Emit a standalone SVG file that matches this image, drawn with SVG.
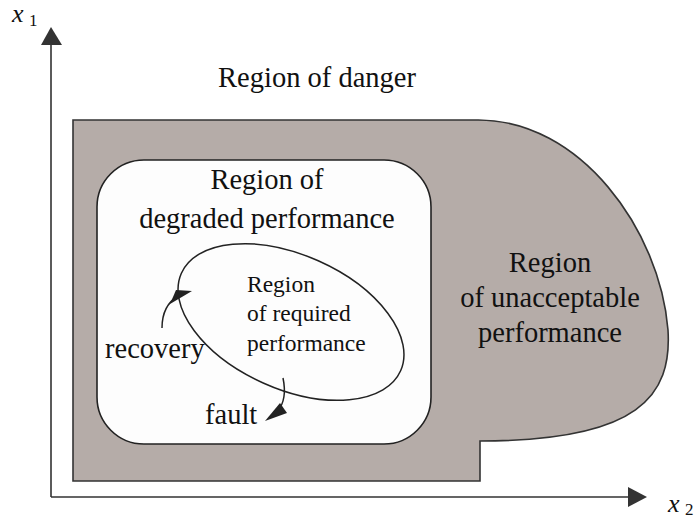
<svg xmlns="http://www.w3.org/2000/svg" width="699" height="521" viewBox="0 0 699 521">
  <style>
    .lbl { font-family: "Liberation Serif", Tinos, "Noto Serif", FreeSerif, "Nimbus Roman", "Nimbus Roman No9 L", "DejaVu Serif", "Times New Roman", Times, serif; fill: #111; }
    .big { font-size: 28.5px; }
    .small { font-size: 23.5px; }
    .math { font-style: italic; }
    .edge { fill: none; stroke: #222; stroke-width: 1.5; }
    .axis { fill: none; stroke: #333; stroke-width: 1.6; }
    .head { fill: #222; }
  </style>
  <rect width="699" height="521" fill="#ffffff"/>

  <!-- region of unacceptable performance (grey outer shape) -->
  <g id="unacceptable">
    <path d="M73,120 H477 C580,119 660,230 668,330 C672,395 640,441 480,441 V481 H73 Z" fill="#b5aca8" stroke="#333" stroke-width="1.6"/>
    <text class="lbl big" x="550" y="272" text-anchor="middle">Region</text>
    <text class="lbl big" x="550" y="307" text-anchor="middle">of unacceptable</text>
    <text class="lbl big" x="550" y="342" text-anchor="middle">performance</text>
  </g>

  <!-- region of degraded performance -->
  <g id="degraded">
    <rect x="97" y="160" width="334" height="284" rx="47" ry="47" fill="#fdfdfd" stroke="#222" stroke-width="1.6"/>
    <text class="lbl big" x="267" y="189" text-anchor="middle">Region of</text>
    <text class="lbl big" x="267" y="228" text-anchor="middle">degraded performance</text>
  </g>

  <!-- region of required performance -->
  <g id="required">
    <ellipse cx="291" cy="322" rx="120" ry="67" transform="rotate(24 291 322)" fill="none" stroke="#222" stroke-width="1.5"/>
    <text class="lbl small" x="247" y="292">Region</text>
    <text class="lbl small" x="247" y="321">of required</text>
    <text class="lbl small" x="247" y="351">performance</text>
  </g>

  <!-- region of danger label -->
  <g id="danger">
    <text class="lbl big" x="317" y="87" text-anchor="middle">Region of danger</text>
  </g>

  <!-- transitions -->
  <g id="connectors">
    <path class="edge" d="M162,328 C162,312 168,302 178,296"/>
    <polygon class="head" points="192,291 170,304 176,290"/>
    <path class="edge" d="M283,378 C286,392 284,404 278,410"/>
    <polygon class="head" points="265,421 280,403 287,413"/>
    <text class="lbl big" x="105" y="358">recovery</text>
    <text class="lbl big" x="205" y="424">fault</text>
  </g>

  <!-- axes -->
  <g id="axes">
    <path class="axis" d="M51,497 V43 M51,497 H631"/>
    <polygon fill="#333" points="51,27 41,45 62,45"/>
    <polygon fill="#333" points="647,497 628,487 628,507"/>
    <text class="lbl math" x="12" y="22" font-size="26">x</text>
    <text class="lbl" x="29" y="26" font-size="17">1</text>
    <text class="lbl math" x="668" y="512" font-size="26">x</text>
    <text class="lbl" x="685" y="515" font-size="17">2</text>
  </g>
</svg>
